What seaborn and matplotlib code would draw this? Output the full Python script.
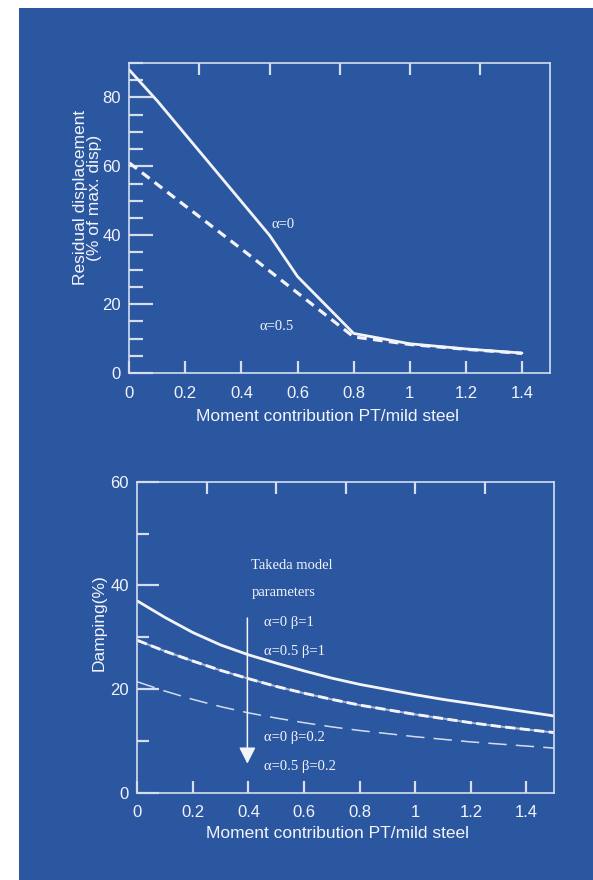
import matplotlib
matplotlib.use("Agg")
import matplotlib.pyplot as plt
import pandas as pd
import seaborn as sns
from matplotlib.patches import Rectangle
from matplotlib.ticker import MultipleLocator

# residual displacement (% of max. disp) vs moment contribution
resid_x_a0 = [0, 0.1, 0.5, 0.6, 0.8, 1.0, 1.2, 1.4]
resid_a0 = [88, 79, 40, 28, 11.5, 8.5, 7.0, 5.8]
resid_x_a05 = [0, 0.4, 0.8, 1.0, 1.2, 1.4]
resid_a05 = [61, 36, 10.5, 8.3, 6.9, 5.7]

# damping (%) vs moment contribution, Takeda model parameters
damp_x = [0, 0.1, 0.2, 0.3, 0.4, 0.5, 0.6, 0.7, 0.8, 0.9, 1.0, 1.1, 1.2, 1.3, 1.4, 1.5]
damp_a0_b1 = [37, 33.8, 30.9, 28.5, 26.6, 25.0, 23.5, 22.1, 20.9, 19.9, 18.9, 18.0, 17.2, 16.4, 15.6, 14.8]
damp_a05_b1 = [29.4, 27.3, 25.4, 23.6, 22.0, 20.5, 19.2, 18.0, 16.9, 16.0, 15.1, 14.3, 13.5, 12.8, 12.2, 11.6]
damp_a0_b02 = [29.4, 27.3, 25.4, 23.6, 22.0, 20.5, 19.2, 18.0, 16.9, 16.0, 15.1, 14.3, 13.5, 12.8, 12.2, 11.6]
damp_a05_b02 = [21.4, 19.6, 18.0, 16.6, 15.4, 14.4, 13.5, 12.7, 12.0, 11.4, 10.8, 10.3, 9.8, 9.4, 9.0, 8.6]

x_ticks = [0, 0.2, 0.4, 0.6, 0.8, 1, 1.2, 1.4]
x_tick_labels = ["0", "0.2", "0.4", "0.6", "0.8", "1", "1.2", "1.4"]
top_ticks = [0.25, 0.5, 0.75, 1.0, 1.25]

BLUE = "#2b56a0"
WHITE = "#f2f4fa"
SPINE = "#d5deef"

sns.set_style("ticks")
plt.rcParams["font.family"] = ["Liberation Sans", "DejaVu Sans"]
SERIF = ["Liberation Serif", "DejaVu Serif"]

fig = plt.figure(figsize=(5.93, 8.8), dpi=100, facecolor="white")
fig.patches.append(Rectangle((19 / 593, 0), 1 - 19 / 593, 1 - 8 / 880,
                             transform=fig.transFigure, facecolor=BLUE,
                             edgecolor="none", zorder=-10))

ax1 = fig.add_axes([0.218, 0.5761, 0.7095, 0.3523])
ax2 = fig.add_axes([0.2315, 0.0992, 0.7032, 0.3534])

df_a0 = pd.DataFrame({"x": resid_x_a0, "y": resid_a0})
df_a05 = pd.DataFrame({"x": resid_x_a05, "y": resid_a05})
sns.lineplot(data=df_a0, x="x", y="y", ax=ax1, color=WHITE, lw=2.0)
sns.lineplot(data=df_a05, x="x", y="y", ax=ax1, color=WHITE, lw=2.3,
             linestyle=(0, (3.0, 2.0)))

df_d = pd.DataFrame({"x": damp_x, "a0b1": damp_a0_b1, "a05b1": damp_a05_b1,
                     "a0b02": damp_a0_b02, "a05b02": damp_a05_b02})
sns.lineplot(data=df_d, x="x", y="a0b1", ax=ax2, color=WHITE, lw=2.0)
sns.lineplot(data=df_d, x="x", y="a05b1", ax=ax2, color=WHITE, lw=1.4, alpha=0.6)
sns.lineplot(data=df_d, x="x", y="a0b02", ax=ax2, color=WHITE, lw=2.1,
             linestyle=(0, (3.5, 1.5)))
sns.lineplot(data=df_d, x="x", y="a05b02", ax=ax2, color=WHITE, lw=1.1, alpha=0.85,
             linestyle=(0, (12, 6)))

for ax, ymax, ymaj, ymin, ylen in [(ax1, 90, 20, 5, (17, 10)), (ax2, 60, 20, 10, (16, 8.5))]:
    ax.set_facecolor(BLUE)
    ax.set_xlim(0, 1.5)
    ax.set_ylim(0, ymax)
    ax.set_xticks(x_ticks)
    ax.set_xticklabels(x_tick_labels)
    ax.yaxis.set_major_locator(MultipleLocator(ymaj))
    ax.yaxis.set_minor_locator(MultipleLocator(ymin))
    ax.set_xlabel("")
    ax.set_ylabel("")
    for s in ax.spines.values():
        s.set_color(SPINE)
        s.set_linewidth(1.2)
    ax.tick_params(axis="x", which="major", direction="in", length=8.5, width=1.6,
                   color=SPINE, labelcolor=WHITE, labelsize=12, pad=9)
    ax.tick_params(axis="y", which="major", direction="in", length=ylen[0], width=1.6,
                   color=SPINE, labelcolor=WHITE, labelsize=12, pad=6)
    ax.tick_params(axis="y", which="minor", direction="in", length=ylen[1], width=1.6,
                   color=SPINE)
    sec = ax.secondary_xaxis("top")
    sec.set_xticks(top_ticks)
    sec.tick_params(direction="in", length=8.5, width=1.6, color=SPINE, labeltop=False)
    sec.spines["top"].set_visible(False)

# top panel labels
ax1.text(-0.099, 0.565, "Residual displacement\n(% of max. disp)", transform=ax1.transAxes,
         rotation=90, ha="center", va="center", ma="center", color=WHITE, fontsize=12.5,
         linespacing=0.95)
ax1.text(0.472, -0.141, "Moment contribution PT/mild steel", transform=ax1.transAxes,
         ha="center", va="center", color=WHITE, fontsize=12.5)
ax1.text(0.55, 43, "α=0", ha="center", va="center", color=WHITE, fontsize=10.5, family=SERIF)
ax1.text(0.525, 13.6, "α=0.5", ha="center", va="center", color=WHITE, fontsize=10.5, family=SERIF)

# bottom panel labels
ax2.text(-0.092, 0.546, "Damping(%)", transform=ax2.transAxes, rotation=90,
         ha="center", va="center", color=WHITE, fontsize=12.5)
ax2.text(0.479, -0.13, "Moment contribution PT/mild steel", transform=ax2.transAxes,
         ha="center", va="center", color=WHITE, fontsize=12.5)
for label, yv, xv in [("Takeda model", 43.8, 0.41), ("parameters", 38.6, 0.41),
                      ("α=0 β=1", 32.8, 0.456), ("α=0.5 β=1", 27.2, 0.456),
                      ("α=0 β=0.2", 10.6, 0.456), ("α=0.5 β=0.2", 5.0, 0.456)]:
    ax2.text(xv, yv, label, ha="left", va="center", color=WHITE, fontsize=10.5, family=SERIF)
ax2.annotate("", xy=(0.396, 5.6), xytext=(0.396, 33.7),
             arrowprops=dict(arrowstyle="-|>,head_width=0.28,head_length=0.55",
                             mutation_scale=18, lw=1.1, color=WHITE, shrinkA=0, shrinkB=0))

fig.savefig("out.png", dpi=100, facecolor="white")
